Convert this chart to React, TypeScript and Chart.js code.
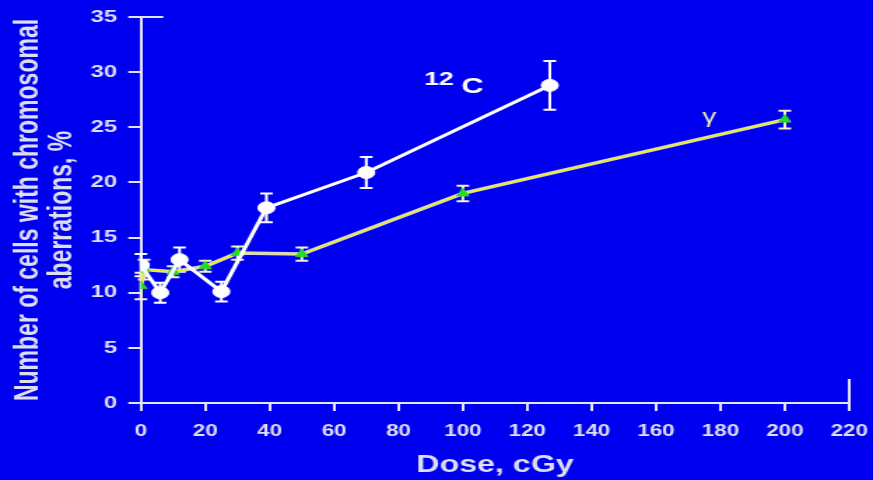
import { useEffect, useRef } from "react";
import { Chart, registerables } from "chart.js";

Chart.register(...registerables);

// 12C ion irradiation: dose (cGy), aberrant cells (%), standard error
const carbonDose = [0, 6, 12, 25, 39, 70, 127];
const carbonValue = [12.5, 10.0, 13.0, 10.1, 17.7, 20.9, 28.8];
const carbonError = [1.0, 0.9, 1.1, 0.9, 1.3, 1.4, 2.2];

// gamma irradiation: dose (cGy), aberrant cells (%), standard error
const gammaDose = [0, 1, 10, 20, 30, 50, 100, 200];
const gammaValue = [10.6, 12.1, 11.9, 12.4, 13.6, 13.5, 19.0, 25.7];
const gammaError = [1.2, 0.9, 0.5, 0.5, 0.6, 0.6, 0.7, 0.8];

const xTickValues = [0, 20, 40, 60, 80, 100, 120, 140, 160, 180, 200, 220];
const yTickValues = [0, 5, 10, 15, 20, 25, 30, 35];

const xTitle = "Dose, cGy";
const yTitle = ["Number of cells with chromosomal", "aberrations, %"];
const carbonLabel = { mass: "12", symbol: "C" };
const gammaLabel = "γ";

const BG = "#0000f0";
const TEXT = "#dedef2";
const AXIS = "#e4e4fa";
const FONT = "'Liberation Sans', Arial, sans-serif";

// canvas is drawn narrow and widened by CSS
const RENDER_W = 624;
const SHOW_W = 873;
const H = 480;

const toPoints = (xs: number[], ys: number[]) => xs.map((x, i) => ({ x, y: ys[i] }));

// vertical error bars, drawn under the markers
const errorBars = {
  id: "errorBars",
  beforeDatasetsDraw(chart: any) {
    const { ctx } = chart;
    const ys = chart.scales.y;
    chart.data.datasets.forEach((ds: any, i: number) => {
      if (!ds.errors) return;
      const meta = chart.getDatasetMeta(i);
      ctx.save();
      ctx.strokeStyle = ds.errorColor;
      ctx.lineWidth = 2;
      meta.data.forEach((pt: any, j: number) => {
        const v = ds.data[j].y;
        const e = ds.errors[j];
        const top = ys.getPixelForValue(v + e);
        const bot = ys.getPixelForValue(v - e);
        const x = pt.x;
        const cap = 4.5;
        ctx.beginPath();
        ctx.moveTo(x, top);
        ctx.lineTo(x, bot);
        ctx.moveTo(x - cap, top);
        ctx.lineTo(x + cap, top);
        ctx.moveTo(x - cap, bot);
        ctx.lineTo(x + cap, bot);
        ctx.stroke();
      });
      ctx.restore();
    });
  },
};

const decorations = {
  id: "decorations",
  afterDraw(chart: any) {
    const { ctx, chartArea } = chart;
    const xs = chart.scales.x;
    const ys = chart.scales.y;
    ctx.save();
    // axis end marks
    ctx.strokeStyle = AXIS;
    ctx.lineWidth = 2;
    ctx.beginPath();
    ctx.moveTo(chartArea.left, chartArea.top);
    ctx.lineTo(chartArea.left + 16, chartArea.top);
    ctx.moveTo(chartArea.right, chartArea.bottom);
    ctx.lineTo(chartArea.right, chartArea.bottom - 24);
    ctx.stroke();

    // series labels
    ctx.fillStyle = "#ffffff";
    ctx.textBaseline = "alphabetic";
    ctx.textAlign = "left";
    ctx.font = `bold 19px ${FONT}`;
    ctx.fillText(carbonLabel.mass, xs.getPixelForValue(88), ys.getPixelForValue(28.8));
    ctx.font = `bold 22px ${FONT}`;
    ctx.fillText(carbonLabel.symbol, xs.getPixelForValue(99.5), ys.getPixelForValue(28.1));

    ctx.fillStyle = "#eaeab4";
    ctx.font = `20px ${FONT}`;
    ctx.textAlign = "center";
    ctx.textBaseline = "middle";
    ctx.fillText(gammaLabel, xs.getPixelForValue(176.5), ys.getPixelForValue(25.9));
    ctx.restore();
  },
};

export default function App() {
  const ref = useRef<HTMLCanvasElement | null>(null);

  useEffect(() => {
    if (!ref.current) return;
    const chart = new Chart(ref.current, {
      type: "line",
      data: {
        datasets: [
          {
            label: "12C",
            data: toPoints(carbonDose, carbonValue),
            borderColor: "#ffffff",
            borderWidth: 3,
            pointRadius: 6,
            pointBackgroundColor: "#ffffff",
            pointBorderColor: "#ffffff",
            pointBorderWidth: 1,
            order: 0,
            errors: carbonError,
            errorColor: "#ffffff",
          } as any,
          {
            label: "gamma",
            data: toPoints(gammaDose, gammaValue),
            borderColor: "#f2f200",
            borderWidth: 1.5,
            pointStyle: "triangle",
            pointRadius: 5,
            pointBackgroundColor: "#1fe01f",
            pointBorderColor: "#30d030",
            pointBorderWidth: 1,
            order: 1,
            errors: gammaError,
            errorColor: "#f4f4c4",
          } as any,
          {
            label: "gamma outline",
            data: toPoints(gammaDose, gammaValue),
            borderColor: "#d4d4f4",
            borderWidth: 3.5,
            pointRadius: 0,
            order: 2,
          } as any,
        ],
      },
      options: {
        responsive: false,
        devicePixelRatio: 1,
        animation: false,
        layout: { padding: { top: 17, right: 17, left: 0, bottom: 0 }, autoPadding: false },
        plugins: { legend: { display: false }, tooltip: { enabled: false } },
        scales: {
          x: {
            type: "linear",
            min: 0,
            max: 220,
            afterFit: (s: any) => {
              s.height = 77;
              s.paddingLeft = 0;
              s.paddingRight = 0;
            },
            afterBuildTicks: (s: any) => {
              s.ticks = xTickValues.map((v) => ({ value: v }));
            },
            ticks: {
              color: TEXT,
              font: { family: FONT, size: 16, weight: "bold" },
              padding: 11,
              maxRotation: 0,
              autoSkip: false,
            },
            grid: {
              drawOnChartArea: false,
              color: AXIS,
              tickColor: AXIS,
              lineWidth: 2,
              tickLength: 8,
            },
            border: { color: AXIS, width: 2 },
            title: {
              display: true,
              text: xTitle,
              color: TEXT,
              font: { family: FONT, size: 23, weight: "bold" },
              padding: { top: 0, bottom: 1 },
            },
          },
          y: {
            type: "linear",
            min: 0,
            max: 35,
            afterFit: (s: any) => {
              s.width = 100.7;
              s.paddingTop = 0;
              s.paddingBottom = 0;
            },
            afterBuildTicks: (s: any) => {
              s.ticks = yTickValues.map((v) => ({ value: v }));
            },
            ticks: {
              color: TEXT,
              font: { family: FONT, size: 17, weight: "bold" },
              padding: 8,
              autoSkip: false,
            },
            grid: {
              drawOnChartArea: false,
              color: AXIS,
              tickColor: AXIS,
              lineWidth: 2,
              tickLength: 9,
            },
            border: { color: AXIS, width: 2 },
            title: {
              display: true,
              text: yTitle,
              color: TEXT,
              font: { family: FONT, size: 23, weight: "bold", lineHeight: 1.04 },
              padding: { top: 8.3, bottom: 0 },
            },
          },
        },
      } as any,
      plugins: [errorBars, decorations],
    });
    return () => chart.destroy();
  }, []);

  return (
    <div
      style={{
        position: "absolute",
        left: 0,
        top: 0,
        width: SHOW_W,
        height: H,
        background: BG,
        overflow: "hidden",
      }}
    >
      <canvas
        ref={ref}
        width={RENDER_W}
        height={H}
        style={{ width: `${SHOW_W}px`, height: `${H}px`, display: "block" }}
      />
    </div>
  );
}
